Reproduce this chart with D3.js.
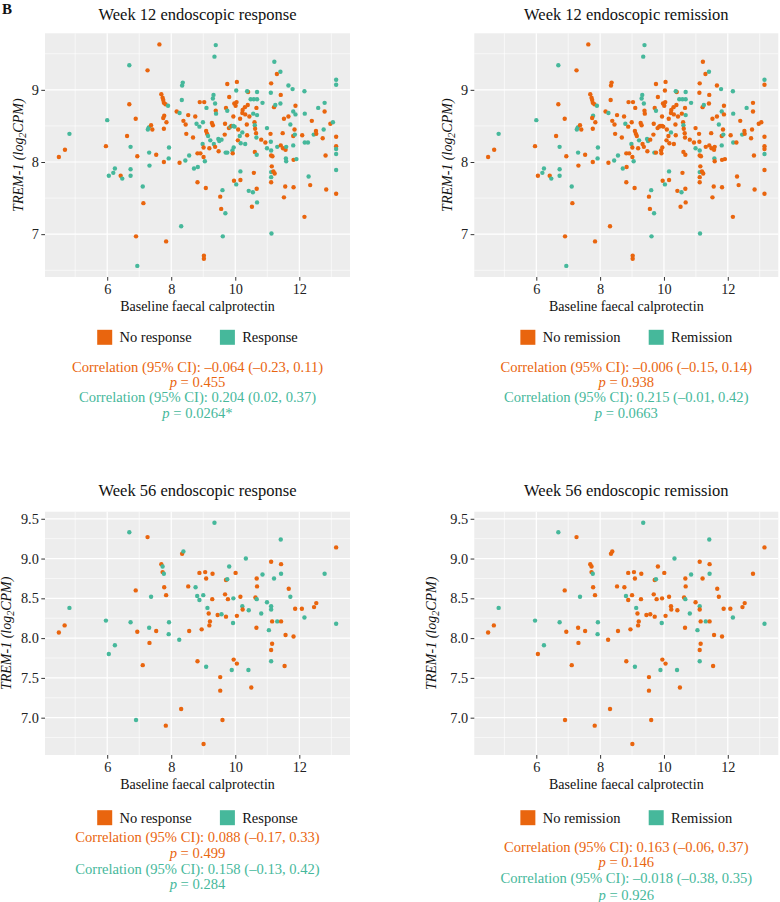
<!DOCTYPE html>
<html><head><meta charset="utf-8">
<script src="https://cdn.jsdelivr.net/npm/d3@7"></script>
<style>
html,body{margin:0;padding:0;background:#fff;}
svg{display:block;}
text{font-family:"Liberation Serif","DejaVu Serif",serif;}
</style></head>
<body>
<svg id="chart" width="780" height="902"></svg>
<script>
// ---------------- DATA ----------------
// Week 12 cohort (same patients in both week-12 panels)
const wk12_x = [4.49,4.68,4.82,5.96,6.00,6.05,6.19,6.24,6.42,6.47,6.62,6.69,6.69,6.73,6.73,6.73,6.89,6.90,6.94,6.94,
7.11,7.13,7.26,7.27,7.30,7.37,7.31,7.41,7.32,7.53,7.63,7.69,7.73,7.75,7.77,7.82,7.90,7.78,7.75,7.85,
7.77,7.77,7.93,7.92,7.84,8.17,8.26,8.33,8.34,8.36,8.38,8.45,8.53,8.47,8.26,8.44,8.56,8.31,8.68,8.75,
8.71,8.83,8.82,8.79,8.88,8.89,8.82,8.91,8.99,9.03,9.09,9.12,8.98,9.01,9.01,9.05,9.08,9.02,9.02,9.10,
9.15,9.19,9.22,9.27,9.30,9.32,9.30,9.37,9.39,9.40,9.47,9.33,9.37,9.48,9.50,9.57,9.53,9.56,9.69,9.61,
9.60,9.39,9.35,9.71,9.75,9.70,9.68,9.67,9.75,9.80,9.81,9.75,9.85,9.88,9.91,9.94,9.92,9.94,9.98,9.96,
10.03,9.95,9.97,10.01,10.04,10.05,10.03,10.09,10.08,10.14,10.17,10.15,10.16,10.16,10.22,10.23,10.30,10.39,10.22,10.31,
10.31,10.36,10.37,10.48,10.58,10.68,10.40,10.37,10.44,10.56,10.60,10.61,10.61,10.62,10.68,10.68,10.66,10.65,10.66,10.67,
10.42,10.55,10.52,10.58,10.68,10.67,10.81,10.85,10.94,10.99,10.99,11.10,11.11,11.12,11.11,11.12,11.12,11.16,11.14,11.12,
11.19,11.12,11.12,11.23,11.13,11.21,11.25,11.22,11.30,11.41,11.41,11.42,11.48,11.52,11.31,11.42,11.49,11.57,11.59,11.56,
11.52,11.58,11.59,11.66,11.66,11.72,11.81,11.79,11.81,11.81,11.88,11.82,11.91,11.82,11.88,11.85,11.86,12.09,12.16,12.17,
12.17,12.27,12.16,12.29,12.34,12.39,12.45,12.52,12.53,12.59,12.76,12.73,12.79,12.79,12.82,12.84,12.97,13.05,13.15,13.15,
13.15,13.15,13.15,13.15,13.15,13.15];
const wk12_y = [8.07,8.17,8.39,8.22,8.58,7.81,7.85,7.91,7.81,7.77,8.36,8.80,9.34,8.21,7.90,7.81,8.60,6.97,8.08,6.56,
7.66,7.43,9.27,8.45,8.48,8.51,8.13,8.45,7.95,8.10,9.63,8.94,8.89,8.86,8.82,8.80,8.78,8.64,8.61,8.55,
8.46,8.00,8.20,8.05,6.90,8.70,8.68,8.86,9.06,9.10,8.57,8.52,8.65,8.39,7.99,8.02,8.09,7.11,8.34,8.63,
7.91,7.93,7.72,8.53,8.49,8.83,8.12,8.12,8.55,8.83,8.43,8.39,8.25,8.20,8.07,8.01,7.64,6.70,6.66,8.75,
8.36,8.19,8.30,8.54,8.51,8.93,8.88,8.81,8.71,8.67,8.32,8.25,8.21,8.15,8.29,8.31,7.52,7.35,7.29,6.97,
7.61,9.62,9.46,8.75,8.71,8.13,8.53,8.38,8.13,8.47,8.90,9.08,8.49,8.50,8.16,8.63,8.12,8.50,8.49,7.74,
7.69,8.20,8.81,8.78,8.83,9.11,8.99,8.45,8.30,8.36,8.26,8.60,7.75,7.87,8.68,8.72,8.76,8.79,8.41,8.25,
8.66,8.52,8.37,8.87,8.87,8.87,8.97,8.98,8.63,8.67,8.55,8.14,8.51,8.46,8.97,8.65,8.75,8.40,8.34,8.10,
7.60,7.58,7.38,7.85,7.44,7.63,8.31,8.82,8.27,8.47,8.19,8.39,8.28,9.09,8.96,8.16,8.09,8.08,7.94,7.86,
7.87,7.72,7.79,7.84,7.01,8.76,8.79,9.39,9.22,9.25,8.81,8.93,8.40,8.60,8.21,8.23,8.19,8.17,8.21,7.66,
7.51,8.05,8.01,8.63,9.06,8.52,8.36,9.01,8.70,8.23,8.66,8.03,8.04,7.65,8.78,8.45,8.38,8.37,8.98,8.67,
8.27,8.27,7.24,7.80,7.68,8.57,8.38,8.43,8.39,8.75,8.45,8.33,8.82,8.70,8.09,7.62,8.53,8.55,8.35,8.22,
8.18,8.11,7.89,7.56,9.14,9.07];
// 1 = Response / Remission, 0 = No response / No remission
const wk12_response = [0,0,1,0,1,1,1,1,0,1,0,0,1,1,1,1,0,0,0,1,
1,0,0,1,1,0,1,0,1,0,0,0,0,0,0,0,1,0,0,0,
0,0,1,1,0,0,1,1,1,1,0,0,0,0,0,1,1,1,0,0,
1,1,0,1,1,0,0,0,1,0,0,0,1,0,0,1,0,0,0,1,
1,0,1,0,0,1,1,1,0,1,1,1,0,0,1,1,0,0,1,1,
1,1,1,0,1,1,0,0,1,0,0,0,1,0,1,0,0,1,1,0,
1,1,0,0,0,0,1,0,0,1,1,0,0,1,0,0,0,0,1,1,
0,0,0,1,1,1,0,1,0,1,0,0,1,0,1,1,0,0,1,1,
1,1,0,0,1,0,0,1,0,1,1,0,1,0,1,1,0,0,0,1,
0,0,1,0,1,0,1,1,0,1,1,0,0,0,1,0,0,0,1,0,
0,1,1,0,1,1,0,1,1,1,1,0,1,0,0,0,1,0,1,1,
1,1,0,1,0,0,1,0,0,1,1,0,1,0,0,0,0,1,0,0,
1,1,1,0,1,1];
const wk12_remission = [0,0,1,0,1,0,1,1,0,1,0,0,1,1,1,1,0,0,0,1,
1,0,0,1,1,0,1,0,0,0,0,0,0,0,0,0,1,1,0,0,
0,0,1,1,0,0,1,0,0,0,0,0,0,0,0,1,1,0,0,0,
1,0,0,1,0,0,0,0,0,0,0,0,1,0,0,1,0,0,0,0,
0,0,1,0,0,1,1,1,0,0,1,0,0,0,1,0,0,0,1,1,
1,1,1,0,1,1,0,0,0,0,0,0,0,0,0,0,0,0,0,0,
1,0,0,0,0,0,0,0,0,0,0,0,0,1,0,0,0,0,1,0,
0,0,0,1,1,1,0,1,0,0,0,0,1,0,1,1,0,0,0,0,
0,1,0,0,0,0,0,1,0,0,1,0,0,0,0,1,0,0,0,1,
0,0,0,0,1,0,1,0,0,1,0,0,0,0,0,0,0,0,0,0,
0,1,0,0,0,1,0,1,1,1,0,0,0,0,0,0,1,0,1,1,
1,0,0,0,0,0,1,0,0,1,0,0,0,0,0,0,0,0,0,0,
0,1,0,0,1,0];
// Week 56 cohort (same patients in both week-56 panels)
const wk56_x = [4.49,4.67,4.82,5.96,6.05,6.24,6.69,6.89,6.73,6.94,7.26,7.37,7.31,7.32,7.53,7.69,7.73,7.73,7.77,7.78,
7.84,7.93,7.92,8.34,8.38,8.25,8.53,8.56,8.76,8.81,8.88,8.88,9.06,9.00,9.09,8.95,9.13,9.17,9.21,9.19,
9.28,9.29,9.35,9.45,9.57,9.68,9.71,9.75,9.71,9.77,9.81,9.94,9.93,10.01,10.05,10.16,10.22,10.23,10.42,10.33,
10.63,10.67,10.66,10.67,10.68,10.85,10.81,10.99,11.12,11.12,11.12,11.05,11.15,11.15,11.12,11.21,11.31,11.42,11.43,11.43,
11.43,11.67,11.72,11.57,11.82,11.87,12.08,12.16,12.46,12.53,12.79,13.15,13.15,7.11,8.82,9.09,9.53,9.53,9.95,10.05,
9.89,10.41,10.50,11.12,11.54,8.31,6.90,7.83,9.60,9.01];
const wk56_y = [8.07,8.16,8.38,8.22,7.80,7.91,9.33,8.60,8.20,8.08,9.27,8.52,8.13,7.94,8.09,8.93,8.90,8.83,8.81,8.64,
8.54,8.20,8.05,9.06,9.09,7.98,8.65,8.09,8.64,8.53,8.48,8.82,8.83,8.54,8.75,8.11,8.38,8.31,8.21,8.16,
8.49,8.81,9.45,8.29,8.30,8.55,8.73,8.74,8.27,8.49,8.90,8.50,8.19,8.82,8.28,8.52,8.40,8.36,8.35,9.00,
8.51,8.49,8.13,8.75,8.65,8.80,8.31,8.45,8.96,8.40,8.36,8.10,8.21,7.93,7.85,8.75,8.21,9.24,8.93,8.81,
8.21,8.62,8.52,8.04,8.02,8.37,8.37,8.26,8.39,8.44,8.81,9.14,8.18,7.66,7.71,7.64,7.51,7.34,7.73,7.68,
7.60,7.60,7.38,7.71,7.65,7.11,6.97,6.90,6.97,6.67];
const wk56_response = [0,0,1,1,1,1,1,0,1,0,0,1,1,0,0,0,1,0,1,0,
0,1,1,0,1,1,0,0,1,1,1,0,0,1,0,0,1,0,0,0,
0,0,1,0,1,0,0,1,0,0,1,1,1,0,0,0,1,0,1,1,
0,1,0,0,0,1,1,1,0,1,1,1,0,0,0,1,1,1,0,1,
0,0,1,0,0,0,0,1,0,0,1,0,1,0,0,1,0,0,0,0,
1,1,0,1,0,0,1,0,0,0];
const wk56_remission = [0,0,1,1,0,1,1,0,1,0,0,1,0,0,0,0,0,0,1,0,
0,1,1,0,0,0,0,0,0,1,0,0,0,0,0,0,1,0,0,0,
0,0,1,0,0,0,0,1,0,0,0,0,1,0,0,0,0,0,0,1,
0,1,0,0,0,1,1,0,0,1,0,1,0,0,0,0,1,1,0,1,
0,0,0,0,0,0,0,1,0,0,0,0,1,0,0,1,0,0,0,0,
1,1,0,1,0,0,0,0,0,0];

const panelTitles = ["Week 12 endoscopic response","Week 12 endoscopic remission",
                     "Week 56 endoscopic response","Week 56 endoscopic remission"];
const legendLabels = [["No response","Response"],["No remission","Remission"],
                      ["No response","Response"],["No remission","Remission"]];
const corrText = [
  ["Correlation (95% CI): –0.064 (–0.23, 0.11)","0.455","Correlation (95% CI): 0.204 (0.02, 0.37)","0.0264*"],
  ["Correlation (95% CI): –0.006 (–0.15, 0.14)","0.938","Correlation (95% CI): 0.215 (–0.01, 0.42)","0.0663"],
  ["Correlation (95% CI): 0.088 (–0.17, 0.33)","0.499","Correlation (95% CI): 0.158 (–0.13, 0.42)","0.284"],
  ["Correlation (95% CI): 0.163 (–0.06, 0.37)","0.146","Correlation (95% CI): –0.018 (–0.38, 0.35)","0.926"]
];
const xMajor = [6,8,10,12], xMinor = [5,7,9,11,13];
const y12Major = [7,8,9], y12Minor = [6.5,7.5,8.5,9.5];
const y56Major = [7.0,7.5,8.0,8.5,9.0,9.5], y56Minor = [6.75,7.25,7.75,8.25,8.75,9.25];

// ---------------- DRAW ----------------
const ORANGE = "#E9650E", TEAL = "#46B89B";
const svg = d3.select("#chart");
svg.append("text").attr("x",2).attr("y",14).attr("font-weight","bold").attr("font-size",15).attr("fill","#111").text("B");

function ext(arr){const e=d3.extent(arr), p=(e[1]-e[0])*0.05; return [e[0]-p,e[1]+p];}

const layout = [
  {x0:45, x1:350, y0:33.3, y1:277, titleY:14, ytx:18, tickFmt:d3.format("d"), legY:337.3, corY:[366.7,381.7,396.7,412.7]},
  {x0:474.3, x1:778.3, y0:33.3, y1:277, titleY:14, ytx:447, tickFmt:d3.format("d"), legY:337.3, corY:[366.7,381.7,396.7,412.7]},
  {x0:45, x1:350, y0:511.7, y1:755, titleY:490.7, ytx:6, tickFmt:d3.format(".1f"), legY:817.7, corY:[837,852.7,869,884.3]},
  {x0:474.3, x1:778.3, y0:511.7, y1:755, titleY:490.7, ytx:431, tickFmt:d3.format(".1f"), legY:817.7, corY:[846.7,862.3,878.3,895]}
];
const sets = [
  {x:wk12_x, y:wk12_y, g:wk12_response, ymaj:y12Major, ymin:y12Minor},
  {x:wk12_x, y:wk12_y, g:wk12_remission, ymaj:y12Major, ymin:y12Minor},
  {x:wk56_x, y:wk56_y, g:wk56_response, ymaj:y56Major, ymin:y56Minor},
  {x:wk56_x, y:wk56_y, g:wk56_remission, ymaj:y56Major, ymin:y56Minor}
];

layout.forEach((L,i)=>{
  const S = sets[i];
  const xs = d3.scaleLinear().domain(ext(S.x)).range([L.x0,L.x1]);
  const ys = d3.scaleLinear().domain(ext(S.y)).range([L.y1,L.y0]);
  const g = svg.append("g");
  g.append("rect").attr("x",L.x0).attr("y",L.y0).attr("width",L.x1-L.x0).attr("height",L.y1-L.y0).attr("fill","#EDEDED");
  // grid
  g.selectAll(".vmin").data(xMinor).join("line").attr("x1",d=>xs(d)).attr("x2",d=>xs(d)).attr("y1",L.y0).attr("y2",L.y1).attr("stroke","#fff").attr("stroke-width",0.6);
  g.selectAll(".hmin").data(S.ymin).join("line").attr("y1",d=>ys(d)).attr("y2",d=>ys(d)).attr("x1",L.x0).attr("x2",L.x1).attr("stroke","#fff").attr("stroke-width",0.6);
  g.selectAll(".vmaj").data(xMajor).join("line").attr("x1",d=>xs(d)).attr("x2",d=>xs(d)).attr("y1",L.y0).attr("y2",L.y1).attr("stroke","#fff").attr("stroke-width",1.2);
  g.selectAll(".hmaj").data(S.ymaj).join("line").attr("y1",d=>ys(d)).attr("y2",d=>ys(d)).attr("x1",L.x0).attr("x2",L.x1).attr("stroke","#fff").attr("stroke-width",1.2);
  // axes
  const ax = g.append("g").attr("transform",`translate(0,${L.y1})`).call(d3.axisBottom(xs).tickValues(xMajor).tickSize(3.7).tickPadding(3).tickFormat(d3.format("d")));
  const ay = g.append("g").attr("transform",`translate(${L.x0},0)`).call(d3.axisLeft(ys).tickValues(S.ymaj).tickSize(3.7).tickPadding(2.5).tickFormat(L.tickFmt));
  [ax,ay].forEach(a=>{
    a.select(".domain").remove();
    a.selectAll("line").attr("stroke","#333").attr("stroke-width",1);
    a.selectAll("text").attr("fill","#222").attr("font-size",14.3).style("font-family",'"Liberation Serif",serif');
  });
  // points
  const pts = S.x.map((v,k)=>({x:v,y:S.y[k],g:S.g[k]}));
  g.selectAll("circle").data(pts).join("circle").attr("cx",d=>xs(d.x)).attr("cy",d=>ys(d.y)).attr("r",2.2)
    .attr("fill",d=>d.g?TEAL:ORANGE);
  const cx = (L.x0+L.x1)/2;
  // title
  svg.append("text").attr("x",cx).attr("y",L.titleY).attr("text-anchor","middle").attr("dominant-baseline","central")
     .attr("font-size",16.5).attr("fill","#111").text(panelTitles[i]);
  // x title
  svg.append("text").attr("x",cx).attr("y",L.y1+29.7).attr("text-anchor","middle").attr("dominant-baseline","central")
     .attr("font-size",14).attr("fill","#111").text("Baseline faecal calprotectin");
  // y title
  const yt = svg.append("text").attr("transform",`translate(${L.ytx},${(L.y0+L.y1)/2}) rotate(-90)`).attr("text-anchor","middle")
     .attr("dominant-baseline","central").attr("font-size",14).attr("font-style","italic").attr("fill","#111");
  yt.append("tspan").text("TREM-1 (log");
  yt.append("tspan").attr("font-size",10).attr("dy",3.5).text("2");
  yt.append("tspan").attr("dy",-3.5).text("CPM)");
  // legend
  const lg = svg.append("g");
  const t1 = lg.append("text").attr("font-size",14.5).attr("dominant-baseline","central").attr("fill","#111").text(legendLabels[i][0]);
  const t2 = lg.append("text").attr("font-size",14.5).attr("dominant-baseline","central").attr("fill","#111").text(legendLabels[i][1]);
  const w1 = t1.node().getComputedTextLength(), w2 = t2.node().getComputedTextLength();
  const total = 15+7.3+w1+28.3+15+7.3+w2;
  let lx = cx-total/2;
  lg.append("rect").attr("x",lx).attr("y",L.legY-7.5).attr("width",15).attr("height",15).attr("fill",ORANGE);
  t1.attr("x",lx+22.3).attr("y",L.legY);
  lx += 22.3+w1+28.3;
  lg.append("rect").attr("x",lx).attr("y",L.legY-7.5).attr("width",15).attr("height",15).attr("fill",TEAL);
  t2.attr("x",lx+22.3).attr("y",L.legY);
  // correlation text
  const cols = [ORANGE,ORANGE,TEAL,TEAL];
  corrText[i].forEach((s,k)=>{
    const t = svg.append("text").attr("x",cx).attr("y",L.corY[k]).attr("text-anchor","middle").attr("dominant-baseline","central")
      .attr("font-size",14.6).attr("fill",cols[k]);
    if(k%2===1){ t.append("tspan").attr("font-style","italic").text("p"); t.append("tspan").text(" = "+s); }
    else t.text(s);
  });
});
</script>
</body></html>
